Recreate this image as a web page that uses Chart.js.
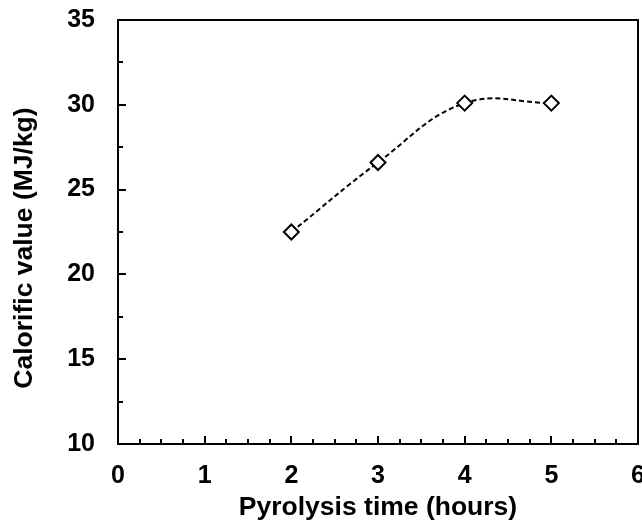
<!DOCTYPE html>
<html>
<head>
<meta charset="utf-8">
<script src="https://cdn.jsdelivr.net/npm/chart.js@4"></script>
<style>
  html, body { margin: 0; padding: 0; background: #fff; }
  #wrap { width: 642px; height: 525px; }
</style>
</head>
<body>
<div id="wrap"><canvas id="grafico" width="642" height="525"></canvas></div>
<script>
// datos
var horas = [2, 3, 4, 5];
var poderCalorifico = [22.5, 26.6, 30.1, 30.1];
var ticksX = [0, 1, 2, 3, 4, 5, 6];
var ticksY = [10, 15, 20, 25, 30, 35];
var pasoMenorX = 0.25;
var pasoMenorY = 2.5;
var tituloX = 'Pyrolysis time (hours)';
var tituloY = 'Calorific value (MJ/kg)';

var fuente = '"Liberation Sans", Arial, sans-serif';

function sinRelleno(s) {
  s.paddingTop = 0;
  s.paddingBottom = 0;
  s.paddingLeft = 0;
  s.paddingRight = 0;
}

// marco, marcas hacia adentro y titulo del eje Y (como en Excel, algo corrido hacia abajo)
var marcasInternas = {
  id: 'marcasInternas',
  afterDraw: function (chart) {
    var ctx = chart.ctx;
    var a = chart.chartArea;
    var sx = chart.scales.x;
    var sy = chart.scales.y;
    ctx.save();
    ctx.strokeStyle = '#000';
    ctx.lineWidth = 2;
    ctx.beginPath();
    var v, p, largo;
    for (v = ticksX[0]; v <= ticksX[ticksX.length - 1] + 1e-9; v += pasoMenorX) {
      p = Math.round(sx.getPixelForValue(v));
      largo = (Math.abs(v - Math.round(v)) < 1e-9) ? 8 : 5;
      ctx.moveTo(p, a.bottom);
      ctx.lineTo(p, a.bottom - largo);
    }
    for (v = ticksY[0]; v <= ticksY[ticksY.length - 1] + 1e-9; v += pasoMenorY) {
      p = Math.round(sy.getPixelForValue(v));
      largo = (ticksY.indexOf(v) >= 0) ? 8 : 5;
      ctx.moveTo(a.left, p);
      ctx.lineTo(a.left + largo, p);
    }
    ctx.stroke();
    ctx.strokeRect(a.left, a.top, a.right - a.left, a.bottom - a.top);

    ctx.translate(25, (a.top + a.bottom) / 2 + 16);
    ctx.rotate(-Math.PI / 2);
    ctx.fillStyle = '#000';
    ctx.font = 'bold 26.5px ' + fuente;
    ctx.textAlign = 'center';
    ctx.textBaseline = 'middle';
    ctx.fillText(tituloY, 0, 0);
    ctx.restore();
  }
};

var ctx = document.getElementById('grafico').getContext('2d');

var miGrafico = new Chart(ctx, {
  type: 'line',
  data: {
    datasets: [{
      label: tituloY,
      data: horas.map(function (h, i) { return { x: h, y: poderCalorifico[i] }; }),
      borderColor: '#000',
      borderWidth: 2,
      borderDash: [5, 3],
      tension: 0.4,
      pointStyle: 'rectRot',
      pointRadius: 7.5,
      pointHoverRadius: 7.5,
      pointBackgroundColor: '#fff',
      pointBorderColor: '#000',
      pointBorderWidth: 2
    }]
  },
  plugins: [marcasInternas],
  options: {
    responsive: false,
    animation: false,
    layout: { autoPadding: false, padding: { top: 20, right: 4, left: 0, bottom: 0 } },
    plugins: {
      legend: { display: false },
      tooltip: { enabled: false }
    },
    scales: {
      x: {
        type: 'linear',
        min: ticksX[0],
        max: ticksX[ticksX.length - 1],
        afterFit: function (s) { s.height = 81; sinRelleno(s); },
        afterBuildTicks: function (s) { s.ticks = ticksX.map(function (v) { return { value: v }; }); },
        grid: { display: false, drawTicks: false },
        border: { display: false },
        ticks: {
          padding: 17,
          color: '#000',
          maxRotation: 0,
          font: { family: fuente, size: 25, weight: 'bold' }
        },
        title: {
          display: true,
          text: tituloX,
          color: '#000',
          padding: { top: 0, bottom: 1 },
          font: { family: fuente, size: 26.5, weight: 'bold' }
        }
      },
      y: {
        min: ticksY[0],
        max: ticksY[ticksY.length - 1],
        afterFit: function (s) { s.width = 118; sinRelleno(s); },
        afterBuildTicks: function (s) { s.ticks = ticksY.map(function (v) { return { value: v }; }); },
        grid: { display: false, drawTicks: false },
        border: { display: false },
        ticks: {
          padding: 23,
          color: '#000',
          font: { family: fuente, size: 25, weight: 'bold' }
        },
        title: { display: false }
      }
    }
  }
});
</script>
</body>
</html>
